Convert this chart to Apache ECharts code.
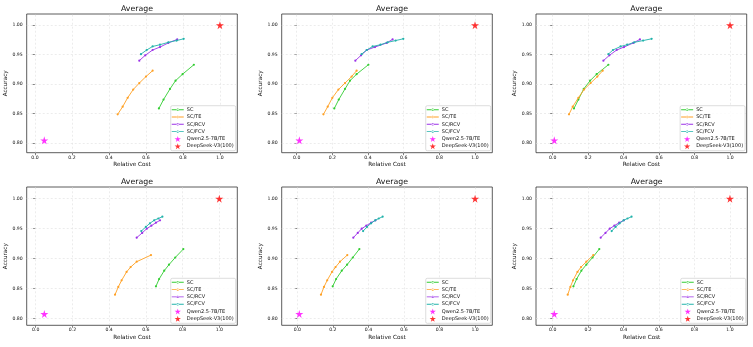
<!DOCTYPE html>
<html>
<head>
<meta charset="utf-8">
<script src="https://cdn.jsdelivr.net/npm/echarts@6/dist/echarts.min.js"></script>
<style>
  html, body { margin: 0; padding: 0; background: #fff; }
  #chart { width: 753px; height: 347px; }
</style>
</head>
<body>
<div id="chart"></div>
<script>
// panels: top-left, top-mid, top-right, bottom-left, bottom-mid, bottom-right
var lineNames = ['SC', 'SC/TE', 'SC/RCV', 'SC/FCV'];
var qwenName = 'Qwen2.5-7B/TE';
var deepName = 'DeepSeek-V3(100)';
var xTicks = [0.0, 0.2, 0.4, 0.6, 0.8, 1.0];
var yTicks = [0.80, 0.85, 0.90, 0.95, 1.00];

// accuracy (same for the three panels of a row)
var accTopSC  = [0.859, 0.874, 0.892, 0.906, 0.917, 0.933];
var accTopTE  = [0.849, 0.862, 0.877, 0.891, 0.902, 0.913, 0.923];
var accTopRCV = [0.940, 0.949, 0.958, 0.963, 0.970, 0.976];
var accTopFCV = [0.951, 0.958, 0.964, 0.967, 0.971, 0.974, 0.977];

var accBotSC  = [0.854, 0.866, 0.880, 0.890, 0.902, 0.916];
var accBotTE  = [0.840, 0.853, 0.864, 0.878, 0.886, 0.895, 0.906];
var accBotRCV = [0.935, 0.943, 0.950, 0.955, 0.960, 0.964];
var accBotFCV = [0.946, 0.953, 0.959, 0.964, 0.967, 0.970];

// relative cost, one row per panel
var costSC = [
  [0.670, 0.695, 0.730, 0.760, 0.798, 0.859],
  [0.211, 0.236, 0.271, 0.299, 0.336, 0.402],
  [0.120, 0.145, 0.175, 0.211, 0.248, 0.314],
  [0.655, 0.672, 0.700, 0.726, 0.760, 0.804],
  [0.199, 0.218, 0.250, 0.280, 0.312, 0.349],
  [0.117, 0.135, 0.162, 0.190, 0.225, 0.263]
];
var costTE = [
  [0.447, 0.474, 0.501, 0.531, 0.564, 0.600, 0.636],
  [0.150, 0.174, 0.200, 0.234, 0.271, 0.308, 0.336],
  [0.092, 0.113, 0.145, 0.177, 0.214, 0.252, 0.282],
  [0.432, 0.450, 0.468, 0.495, 0.517, 0.550, 0.628],
  [0.133, 0.150, 0.168, 0.195, 0.215, 0.240, 0.281],
  [0.085, 0.100, 0.115, 0.140, 0.160, 0.190, 0.229]
];
var costRCV = [
  [0.564, 0.596, 0.636, 0.676, 0.721, 0.769],
  [0.329, 0.361, 0.393, 0.439, 0.505, 0.538],
  [0.286, 0.320, 0.361, 0.402, 0.455, 0.492],
  [0.550, 0.580, 0.605, 0.630, 0.655, 0.677],
  [0.315, 0.340, 0.362, 0.388, 0.415, 0.440],
  [0.271, 0.298, 0.322, 0.348, 0.375, 0.402]
];
var costFCV = [
  [0.573, 0.604, 0.636, 0.676, 0.721, 0.766, 0.804],
  [0.364, 0.393, 0.426, 0.470, 0.510, 0.555, 0.598],
  [0.314, 0.340, 0.383, 0.420, 0.460, 0.510, 0.558],
  [0.575, 0.600, 0.622, 0.645, 0.668, 0.690],
  [0.370, 0.392, 0.415, 0.438, 0.458, 0.480],
  [0.333, 0.355, 0.378, 0.400, 0.422, 0.445]
];
var qwenCost = [0.050, 0.015, 0.009, 0.047, 0.011, 0.009];
var qwenAcc  = [0.805, 0.805, 0.805, 0.808, 0.808, 0.808];
var deepCost = [1.0, 1.0, 1.0, 1.0, 1.0, 1.0];
var deepAcc  = [1.0, 1.0, 1.0, 1.0, 1.0, 1.0];

// layout in px: grid left, top, width, height and axis ranges
var panels = [
  { left: 26.7,  top: 14,  width: 210.6, height: 138.7, xMin: -0.045, xMax: 1.094, yMin: 0.784, yMax: 1.019 },
  { left: 281.7, top: 14,  width: 210.6, height: 138.7, xMin: -0.084, xMax: 1.097, yMin: 0.784, yMax: 1.019 },
  { left: 536,   top: 14,  width: 210.7, height: 138.7, xMin: -0.094, xMax: 1.094, yMin: 0.784, yMax: 1.019 },
  { left: 26.7,  top: 187, width: 210.6, height: 138.3, xMin: -0.049, xMax: 1.098, yMin: 0.789, yMax: 1.0195 },
  { left: 281.7, top: 187, width: 210.6, height: 138.3, xMin: -0.088, xMax: 1.097, yMin: 0.789, yMax: 1.0195 },
  { left: 536,   top: 187, width: 211.3, height: 138.3, xMin: -0.094, xMax: 1.098, yMin: 0.789, yMax: 1.0195 }
];

var colors = { 'SC': '#32cd32', 'SC/TE': '#ffa024', 'SC/RCV': '#9b30e8', 'SC/FCV': '#20b2aa' };
var starPath = 'path://M50,0 L61,35 L98,35 L68,57 L79,91 L50,70 L21,91 L32,57 L2,35 L39,35 Z';
// legend handle: thin line with a dot, in a 24x12 box (corner specks fix the box)
var lineIcon = 'path://M0,0 L0.1,0 L0,0.1 Z M24,12 L23.9,12 L24,11.9 Z ' +
  'M0,5.1 L24,5.1 L24,6.9 L0,6.9 Z ' +
  'M9.6,6 A2.4,2.4 0 1 0 14.4,6 A2.4,2.4 0 1 0 9.6,6 Z';
var font = 'DejaVu Sans';
var gridLine = { color: '#e0e0e0', type: [2, 2], width: 0.6 };

function zip(xs, ys) {
  var out = [];
  for (var i = 0; i < xs.length; i++) out.push([xs[i], ys[i]]);
  return out;
}

var grids = [], xAxes = [], yAxes = [], titles = [], legends = [], series = [];

for (var p = 0; p < panels.length; p++) {
  var g = panels[p];
  var isTop = p < 3;
  grids.push({
    left: g.left, top: g.top, width: g.width, height: g.height,
    show: true, borderColor: '#333', borderWidth: 0.8, backgroundColor: 'transparent'
  });
  titles.push({
    text: 'Average',
    left: g.left + g.width / 2, textAlign: 'center',
    top: g.top - 14,
    textStyle: { fontFamily: font, fontSize: 7.8, fontWeight: 'normal', color: '#111' }
  });
  xAxes.push({
    type: 'value', gridIndex: p, min: g.xMin, max: g.xMax,
    name: 'Relative Cost', nameLocation: 'middle', nameGap: 9,
    nameTextStyle: { fontFamily: font, fontSize: 5.7, color: '#111' },
    axisLine: { show: false },
    axisTick: { show: true, length: 2.5, customValues: xTicks, lineStyle: { color: '#333', width: 0.6 } },
    axisLabel: {
      customValues: xTicks, margin: 2.2, fontFamily: font, fontSize: 4.6, color: '#111',
      formatter: function (v) { return v.toFixed(1); }
    },
    splitLine: { show: false }
  });
  yAxes.push({
    type: 'value', gridIndex: p, min: g.yMin, max: g.yMax,
    name: 'Accuracy', nameLocation: 'middle', nameGap: 15.5, nameRotate: 90,
    nameTextStyle: { fontFamily: font, fontSize: 5.7, color: '#111' },
    axisLine: { show: false },
    axisTick: { show: true, length: 2.5, customValues: yTicks, lineStyle: { color: '#333', width: 0.6 } },
    axisLabel: {
      customValues: yTicks, margin: 4, fontFamily: font, fontSize: 4.6, color: '#111',
      formatter: function (v) { return v.toFixed(2); }
    },
    splitLine: { show: false }
  });

  // dashed grid at the tick values
  var gridMarks = [];
  xTicks.forEach(function (v) { gridMarks.push({ xAxis: v }); });
  yTicks.forEach(function (v) { gridMarks.push({ yAxis: v }); });

  var costs = [costSC[p], costTE[p], costRCV[p], costFCV[p]];
  var accs = isTop ? [accTopSC, accTopTE, accTopRCV, accTopFCV] : [accBotSC, accBotTE, accBotRCV, accBotFCV];
  for (var k = 0; k < lineNames.length; k++) {
    var s = {
      name: lineNames[k], type: 'line', xAxisIndex: p, yAxisIndex: p,
      data: zip(costs[k], accs[k]),
      symbol: 'circle', symbolSize: 2.2, showSymbol: true,
      itemStyle: { color: colors[lineNames[k]] },
      lineStyle: { color: colors[lineNames[k]], width: 0.9 },
      z: 3 + k
    };
    if (k === 0) {
      s.markLine = {
        silent: true, symbol: 'none', label: { show: false },
        lineStyle: gridLine, data: gridMarks, z: 1
      };
    }
    series.push(s);
  }
  series.push({
    name: qwenName, type: 'scatter', xAxisIndex: p, yAxisIndex: p,
    data: [[qwenCost[p], qwenAcc[p]]], symbol: starPath, symbolSize: 8,
    itemStyle: { color: '#ff00ff' }, z: 8
  });
  series.push({
    name: deepName, type: 'scatter', xAxisIndex: p, yAxisIndex: p,
    data: [[deepCost[p], deepAcc[p]]], symbol: starPath, symbolSize: 8,
    itemStyle: { color: '#ff0000' }, z: 8
  });

  legends.push({
    orient: 'vertical',
    right: 753 - (g.left + g.width - 1.6),
    bottom: 347 - (g.top + g.height - 2),
    selectedMode: false,
    itemWidth: 12, itemHeight: 6, itemGap: 0.3,
    padding: [0.5, 2, 1, 1],
    backgroundColor: 'rgba(255,255,255,0.85)',
    borderColor: '#cfcfcf', borderWidth: 0.7, borderRadius: 1.5,
    itemStyle: { borderWidth: 0 },
    textStyle: { fontFamily: font, fontSize: 5, lineHeight: 7, color: '#111', padding: [0, 0, 0, -2] },
    data: [
      { name: 'SC', icon: lineIcon }, { name: 'SC/TE', icon: lineIcon },
      { name: 'SC/RCV', icon: lineIcon }, { name: 'SC/FCV', icon: lineIcon },
      { name: qwenName, icon: starPath, itemStyle: { color: '#ff00ff' } },
      { name: deepName, icon: starPath, itemStyle: { color: '#ff0000' } }
    ]
  });
}

var chart = echarts.init(document.getElementById('chart'), null, { renderer: 'canvas' });
chart.setOption({
  animation: false,
  backgroundColor: '#fff',
  title: titles,
  legend: legends,
  grid: grids,
  xAxis: xAxes,
  yAxis: yAxes,
  series: series
});
</script>
</body>
</html>
